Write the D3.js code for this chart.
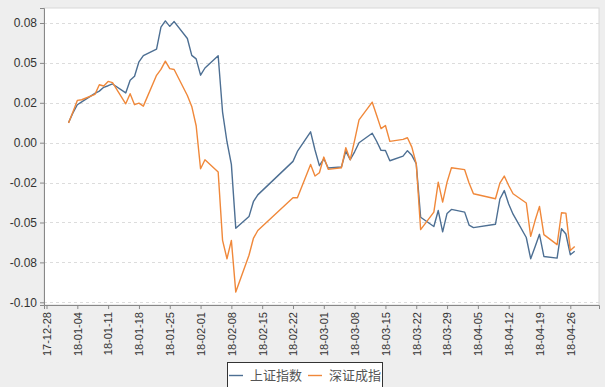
<!DOCTYPE html>
<html>
<head>
<meta charset="utf-8">
<script src="https://cdn.jsdelivr.net/npm/d3@7"></script>
<style>
  body { margin: 0; background: #eeeeee; }
  svg { display: block; }
  .tick text { fill: #333; font-family: "Liberation Sans", Arial, sans-serif; }
  .legend text { font-family: "Noto Sans CJK SC", sans-serif; font-size: 13px; fill: #555; }
</style>
</head>
<body>
<div id="chart"></div>
<script>
// trading days, Jan - Apr 2018
var dates = [
  '2018-01-02','2018-01-03','2018-01-04','2018-01-05','2018-01-08','2018-01-09','2018-01-10','2018-01-11','2018-01-12',
  '2018-01-15','2018-01-16','2018-01-17','2018-01-18','2018-01-19','2018-01-22','2018-01-23','2018-01-24','2018-01-25',
  '2018-01-26','2018-01-29','2018-01-30','2018-01-31',
  '2018-02-01','2018-02-02','2018-02-05','2018-02-06','2018-02-07','2018-02-08','2018-02-09','2018-02-12','2018-02-13',
  '2018-02-14','2018-02-22','2018-02-23','2018-02-26','2018-02-27','2018-02-28',
  '2018-03-01','2018-03-02','2018-03-05','2018-03-06','2018-03-07','2018-03-08','2018-03-09','2018-03-12','2018-03-13',
  '2018-03-14','2018-03-15','2018-03-16','2018-03-19','2018-03-20','2018-03-21','2018-03-22','2018-03-23','2018-03-26',
  '2018-03-27','2018-03-28','2018-03-29','2018-03-30',
  '2018-04-02','2018-04-03','2018-04-04','2018-04-09','2018-04-10','2018-04-11','2018-04-12','2018-04-13','2018-04-16',
  '2018-04-17','2018-04-18','2018-04-19','2018-04-20','2018-04-23','2018-04-24','2018-04-25','2018-04-26','2018-04-27'
];

// 上证指数 cumulative return
var shValues = [
  0.0125, 0.0187, 0.0238, 0.0256, 0.0309, 0.0323, 0.0347, 0.0357, 0.0368,
  0.0312, 0.0391, 0.0416, 0.0507, 0.0546, 0.0587, 0.0724, 0.0763, 0.0729,
  0.0759, 0.0653, 0.0547, 0.0525,
  0.0423, 0.0468, 0.0545, 0.0192, 0.0006, -0.0136, -0.0536, -0.0463, -0.0370,
  -0.0327, -0.0117, -0.0055, 0.0068, -0.0046, -0.0144,
  -0.0101, -0.0159, -0.0152, -0.0053, -0.0107, -0.0057, 0.0000, 0.0059, 0.0009,
  -0.0048, -0.0049, -0.0113, -0.0084, -0.0050, -0.0079, -0.0132, -0.0467, -0.0525,
  -0.0425, -0.0559, -0.0443, -0.0418,
  -0.0435, -0.0516, -0.0532, -0.0511, -0.0353, -0.0300, -0.0384, -0.0448, -0.0594,
  -0.0727, -0.0652, -0.0574, -0.0713, -0.0723, -0.0539, -0.0572, -0.0702, -0.0680
];

// 深证成指 cumulative return
var szValues = [
  0.0123, 0.0192, 0.0265, 0.0269, 0.0303, 0.0363, 0.0355, 0.0384, 0.0376,
  0.0244, 0.0307, 0.0238, 0.0248, 0.0229, 0.0422, 0.0459, 0.0511, 0.0464,
  0.0459, 0.0296, 0.0227, 0.0106,
  -0.0163, -0.0107, -0.0184, -0.0612, -0.0727, -0.0612, -0.0936, -0.0705, -0.0600,
  -0.0550, -0.0345, -0.0345, -0.0136, -0.0209, -0.0188,
  -0.0090, -0.0167, -0.0157, -0.0031, -0.0107, 0.0014, 0.0143, 0.0254, 0.0172,
  0.0088, 0.0108, 0.0008, 0.0021, 0.0031, -0.0028, -0.0132, -0.0545, -0.0435,
  -0.0247, -0.0372, -0.0247, -0.0157,
  -0.0169, -0.0253, -0.0320, -0.0351, -0.0253, -0.0209, -0.0268, -0.0320, -0.0378,
  -0.0587, -0.0488, -0.0399, -0.0576, -0.0639, -0.0439, -0.0441, -0.0675, -0.0650
];

var seriesNames = ['上证指数', '深证成指'];
var seriesColors = ['#4d6f93', '#f0883a'];

var yTicks = [-0.1, -0.075, -0.05, -0.025, 0, 0.025, 0.05, 0.075];
var yTickLabels = ['-0.10', '-0.08', '-0.05', '-0.02', '0.00', '0.02', '0.05', '0.08'];

var xTicks = ['2017-12-28','2018-01-04','2018-01-11','2018-01-18','2018-01-25','2018-02-01','2018-02-08','2018-02-15',
  '2018-02-22','2018-03-01','2018-03-08','2018-03-15','2018-03-22','2018-03-29','2018-04-05','2018-04-12',
  '2018-04-19','2018-04-26'];

var width = 605, height = 387;
var plot = { left: 44, right: 599, top: 8, bottom: 305 };

var parse = d3.timeParse('%Y-%m-%d');
var fmt = d3.timeFormat('%y-%m-%d');

var xScale = d3.scaleTime()
    .domain([new Date(2017, 11, 27, 10, 20), new Date(2018, 4, 2, 12, 30)])
    .range([plot.left, plot.right]);

var yScale = d3.scaleLinear()
    .domain([-0.1017, 0.0844])
    .range([plot.bottom, plot.top]);

var svg = d3.select('#chart').append('svg')
    .attr('width', width)
    .attr('height', height);

// plot area
svg.append('rect')
    .attr('x', plot.left).attr('y', plot.top)
    .attr('width', plot.right - plot.left).attr('height', plot.bottom - plot.top)
    .attr('fill', '#fff')
    .attr('stroke', '#d8d8d8');

// grid lines
svg.append('g').attr('class', 'grid')
    .selectAll('line').data(yTicks)
    .enter().append('line')
    .attr('x1', plot.left).attr('x2', plot.right)
    .attr('y1', function(d) { return Math.round(yScale(d)) + 0.5; })
    .attr('y2', function(d) { return Math.round(yScale(d)) + 0.5; })
    .attr('stroke', '#dcdcdc')
    .attr('stroke-dasharray', '3,3');

// y axis
var yAxis = d3.axisLeft(yScale)
    .tickValues(yTicks)
    .tickSize(4)
    .tickPadding(3)
    .tickFormat(function(d, i) { return yTickLabels[i]; });

var gy = svg.append('g')
    .attr('transform', 'translate(' + plot.left + ',0)')
    .call(yAxis);
gy.selectAll('text').style('font-size', '12px');

// x axis
var xAxis = d3.axisBottom(xScale)
    .tickValues(xTicks.map(parse))
    .tickSize(4)
    .tickFormat(fmt);

var gx = svg.append('g')
    .attr('transform', 'translate(0,' + plot.bottom + ')')
    .call(xAxis);
gx.selectAll('text')
    .style('font-size', '11px')
    .style('text-anchor', 'end')
    .attr('x', -7)
    .attr('y', 0)
    .attr('dy', '.35em')
    .attr('transform', 'rotate(-90)');

[gx, gy].forEach(function(g) {
    g.select('.domain').attr('stroke', '#888');
    g.selectAll('.tick line').attr('stroke', '#888');
});

// lines
var parsedDates = dates.map(parse);
var line = d3.line()
    .x(function(d, i) { return xScale(parsedDates[i]); })
    .y(function(d) { return yScale(d); });

[shValues, szValues].forEach(function(vals, k) {
    svg.append('path')
        .datum(vals)
        .attr('fill', 'none')
        .attr('stroke', seriesColors[k])
        .attr('stroke-width', 1.4)
        .attr('stroke-linejoin', 'round')
        .attr('d', line);
});

// legend
var legend = svg.append('g').attr('class', 'legend');
legend.append('rect')
    .attr('x', 227.5).attr('y', 362.5)
    .attr('width', 155).attr('height', 30)
    .attr('fill', '#fff')
    .attr('stroke', '#333');

var legendX = [229, 308];
seriesNames.forEach(function(name, k) {
    legend.append('line')
        .attr('x1', legendX[k]).attr('x2', legendX[k] + 14)
        .attr('y1', 375.5).attr('y2', 375.5)
        .attr('stroke', seriesColors[k])
        .attr('stroke-width', 1.4);
    legend.append('text')
        .attr('x', legendX[k] + 21)
        .attr('y', 380)
        .text(name);
});
</script>
</body>
</html>
